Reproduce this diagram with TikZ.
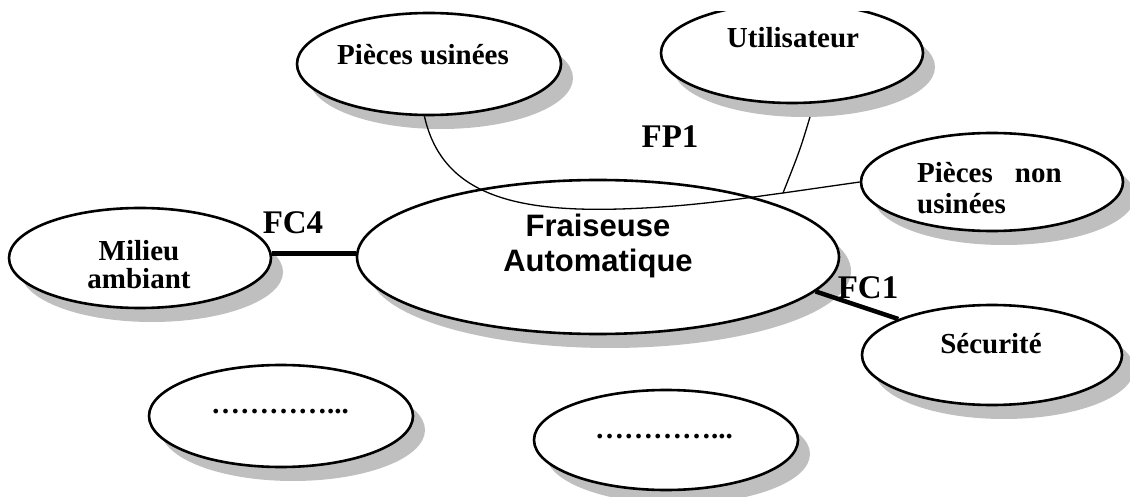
\documentclass[tikz,border=0pt]{standalone}
\usepackage{fontspec}
\setmainfont{Liberation Serif}
\newfontfamily\sansb{Liberation Sans}
\usetikzlibrary{shapes.geometric,shadows}
\begin{document}
\begin{tikzpicture}[x=1pt,y=-1pt,
  ell/.style={ellipse, draw, line width=2.6pt, fill=white, inner sep=0pt,
    drop shadow={shadow xshift=12pt, shadow yshift=-14pt, fill=black!25, opacity=1}},
  lbl/.style={font=\bfseries\fontsize{29}{31}\selectfont, align=center, inner sep=0pt},
  fclbl/.style={font=\bfseries\fontsize{33}{35}\selectfont, inner sep=0pt},
  fpline/.style={line width=1.3pt},
  fcline/.style={line width=4.5pt}]
\useasboundingbox (0,0) rectangle (1130,497);
\begin{scope}
\clip (0,12) rectangle (1130,497);
% ellipses
\node[ell, minimum width=264pt, minimum height=102pt] (pu) at (429,64) {};
\node[ell, minimum width=262pt, minimum height=100pt] (util) at (792,53) {};
\node[ell, minimum width=262pt, minimum height=98pt] (pnu) at (992,182) {};
\node[ell, minimum width=482pt, minimum height=154pt] (fr) at (598,257) {};
\node[ell, minimum width=262pt, minimum height=100pt] (mil) at (140,258) {};
\node[ell, minimum width=260pt, minimum height=100pt] (sec) at (992,355) {};
\node[ell, minimum width=264pt, minimum height=102pt] (d1) at (281,416) {};
\node[ell, minimum width=264pt, minimum height=100pt] (d2) at (666,440) {};
% texts
\node[lbl] (tpu) at (423,55) {Pièces usinées};
\node[lbl] (tut) at (793,38) {Utilisateur};
\node[lbl, align=left, anchor=west] (tpnu) at (917,188) {Pièces\hspace{22pt}non\\usinées};
\node[font=\sansb\bfseries\fontsize{31}{35}\selectfont, align=center, inner sep=0pt] (tfr) at (598,246) {Fraiseuse\\Automatique};
\node[lbl, font=\bfseries\fontsize{29}{28}\selectfont] (tmil) at (139,265) {Milieu\\ambiant};
\node[lbl] (tsec) at (991,344) {Sécurité};
\node[lbl] (td1) at (280,412) {…………...};
\node[lbl] (td2) at (664,437) {…………...};
\node[fclbl] (fp1) at (670,137) {FP1};
\node[fclbl] (fc4) at (293,223) {FC4};
\node[fclbl] (fc1) at (868,288) {FC1};
% connectors
\coordinate (j) at (783,193);
\coordinate (ut) at (810,117);
\draw[fpline] (pu.-95) .. controls (442,195) and (515,212) .. (620,209)
   .. controls (690,207) and (745,198) .. (j) -- (pnu.west);
\draw[fpline] (ut) .. controls (800,150) .. (j);
\draw[fcline] (mil.2) -- (fr.west |- mil.2);
\draw[fcline] (fr.-9.5) -- (sec.159.5);
\end{scope}
\end{tikzpicture}
\end{document}
